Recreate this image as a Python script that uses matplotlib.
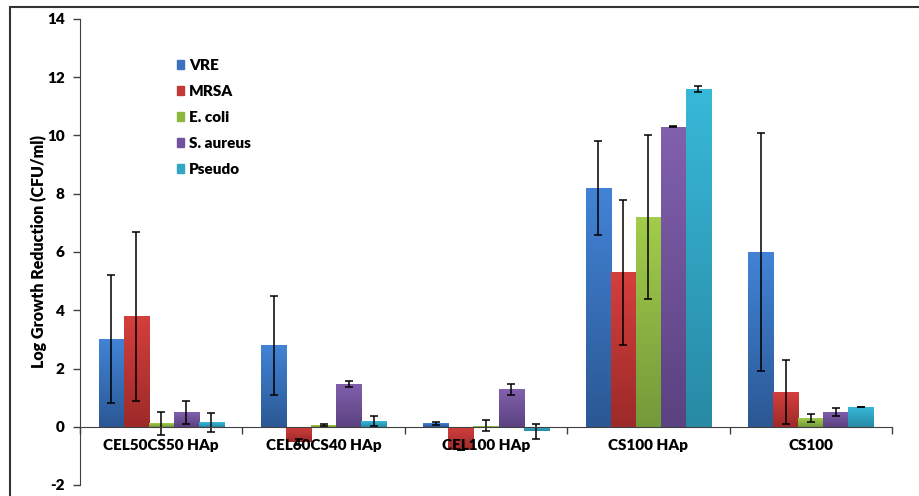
import numpy as np
import matplotlib
matplotlib.use("Agg")
import matplotlib.pyplot as plt
from matplotlib.patches import Rectangle
from matplotlib.colors import LinearSegmentedColormap

plt.rcParams['font.family'] = ['Lato', 'DejaVu Sans']
plt.rcParams['font.weight'] = 'heavy'

categories = ["CEL50CS50 HAp", "CEL60CS40 HAp", "CEL100 HAp", "CS100 HAp", "CS100"]
series = ["VRE", "MRSA", "E. coli", "S. aureus", "Pseudo"]
vre = [3.0, 2.8, 0.12, 8.2, 6.0]
mrsa = [3.8, -0.52, -0.8, 5.3, 1.2]
ecoli = [0.12, 0.05, 0.03, 7.2, 0.3]
saureus = [0.5, 1.48, 1.28, 10.3, 0.52]
pseudo = [0.15, 0.2, -0.15, 11.6, 0.68]
vre_err = [2.2, 1.7, 0.05, 1.62, 4.1]
mrsa_err = [2.9, 0.1, 0.0, 2.5, 1.1]
ecoli_err = [0.4, 0.03, 0.19, 2.8, 0.15]
saureus_err = [0.4, 0.1, 0.2, 0.02, 0.14]
pseudo_err = [0.32, 0.18, 0.26, 0.1, 0.0]
yticks = [-2, 0, 2, 4, 6, 8, 10, 12, 14]

values = [vre, mrsa, ecoli, saureus, pseudo]
errors = [vre_err, mrsa_err, ecoli_err, saureus_err, pseudo_err]
top_colors = ["#4283d6", "#d43f3d", "#a2cc4a", "#8160ad", "#38b8d8"]
bot_colors = ["#2b5894", "#9c2a29", "#74993a", "#5b4280", "#288aa5"]
legend_colors = ["#3b72c0", "#c23a38", "#8cb840", "#7152a0", "#33a6c6"]

fig = plt.figure(figsize=(9.19, 4.96), dpi=100)
ax = fig.add_axes([80/919, 1-485/496, (892-80)/919, (485-19)/496])

x = np.arange(len(categories))
w = 0.154
for i, (vals, errs) in enumerate(zip(values, errors)):
    bars = ax.bar(x + (i - 2) * w, vals, width=w, color=legend_colors[i], zorder=2, linewidth=0)
    cmap = LinearSegmentedColormap.from_list("g%d" % i, [bot_colors[i], top_colors[i]])
    grad = np.linspace(1, 0, 100).reshape(-1, 1)
    for b in bars:
        x0, y0 = b.get_x(), b.get_y()
        bw, bh = b.get_width(), b.get_height()
        ylo, yhi = min(y0, y0 + bh), max(y0, y0 + bh)
        im = ax.imshow(grad, extent=[x0, x0 + bw, ylo, yhi], aspect='auto',
                       cmap=cmap, zorder=2.1, vmin=0, vmax=1)
        im.set_clip_path(b)
    ax.errorbar(x + (i - 2) * w, vals, yerr=errs, fmt='none', ecolor='black',
                elinewidth=1.1, capsize=2.8, capthick=1.1, zorder=3)

ax.set_xlim(-0.5, len(categories) - 0.5)
ax.set_ylim(-2, 14)
ax.set_yticks(yticks)
ax.set_yticklabels([str(t) for t in yticks])
ax.set_xticks(x)
ax.set_xticklabels(categories)
ax.set_xticks(np.arange(-0.5, len(categories)), minor=True)
ax.tick_params(axis='x', which='major', length=0, pad=9, labelsize=11)
ax.tick_params(axis='x', which='minor', length=5, direction='out', width=1, color='#404040')
ax.tick_params(axis='y', length=5, direction='out', width=1, color='#404040', pad=6, labelsize=11)
for lbl in ax.get_xticklabels() + ax.get_yticklabels():
    lbl.set_fontweight('heavy')
ax.spines['top'].set_visible(False)
ax.spines['right'].set_visible(False)
ax.spines['bottom'].set_position(('data', 0))
ax.spines['bottom'].set_color('#404040')
ax.spines['left'].set_color('#404040')
ax.spines['bottom'].set_zorder(4)
ax.xaxis.set_zorder(5)
ax.set_ylabel("Log Growth Reduction (CFU/ml)", fontsize=11.5, fontweight='heavy', labelpad=0)

handles = [Rectangle((0, 0), 1, 1, color=c) for c in legend_colors]
leg = ax.legend(handles, series, loc='upper left', bbox_to_anchor=(163/919, 1-45/496),
                bbox_transform=fig.transFigure, frameon=False,
                handlelength=0.5, handleheight=0.5, handletextpad=0.3, labelspacing=0.85,
                prop={'weight': 'heavy', 'size': 11})

fig.patches.append(Rectangle((10/919, -0.2), 1.2, 1.2 - 7/496, transform=fig.transFigure,
                             fill=False, edgecolor='#333333', linewidth=1.5))
fig.savefig("out.png", dpi=100)
